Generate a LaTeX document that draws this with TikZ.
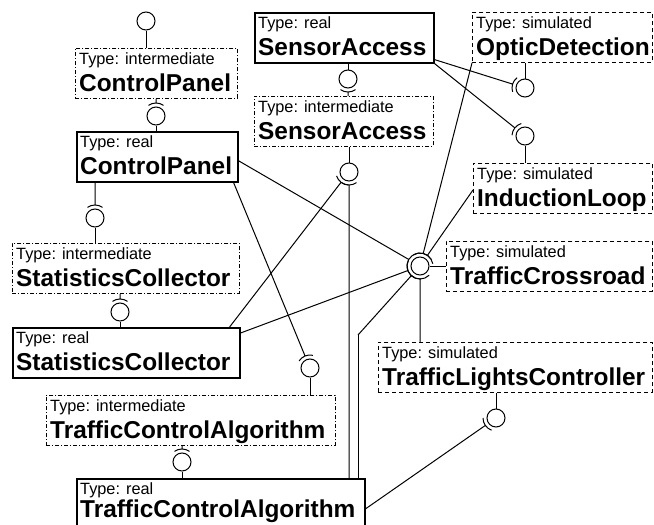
\documentclass[tikz,border=0pt]{standalone}
\usepackage{fontspec}
\setmainfont{Liberation Sans}
\usetikzlibrary{calc}
\tikzset{
 conn/.style={line width=1pt},
 realbox/.style={draw, line width=1.6pt, inner sep=0pt, anchor=north west, minimum height=50pt},
 intbox/.style={draw, line width=0.9pt, dash pattern=on 4pt off 2pt on 1pt off 2pt, inner sep=0pt, anchor=north west, minimum height=50pt},
 simbox/.style={draw, line width=0.9pt, dash pattern=on 4pt off 3pt, inner sep=0pt, anchor=north west, minimum height=50pt},
 typelbl/.style={anchor=base west, inner sep=0pt, font=\fontsize{16.3}{18}\selectfont},
 namelbl/.style={anchor=base west, inner sep=0pt, font=\fontsize{24.4}{28}\selectfont\bfseries},
 ball/.style={circle, draw, line width=1pt, minimum size=18pt, inner sep=0pt},
}
\def\nameoff{-43.5pt}
\newcommand{\ubox}[6]{%
 \node[#1, minimum width=#4] (#2) at (#3) {};
 \node[typelbl] (#2t) at ([shift={(4pt,-16pt)}]#2.north west) {Type: #5};
 \node[namelbl] (#2n) at ([shift={(4pt,\nameoff)}]#2.north west) {#6};}
\newcommand{\sock}[3]{%
 \draw[conn] let \p1=($(#2)-(#1.center)$), \n1={atan2(\y1,\x1)} in
  (#2) -- ($(#1.center)!13pt!(#2)$)
  ($(#1.center)+({\n1-#3}:13pt)$) arc[start angle={\n1-#3}, end angle={\n1+#3}, radius=13pt];}
\begin{document}
\begin{tikzpicture}[x=1pt,y=-1pt]
\clip (0,0) rectangle (654,525);
% boxes
\ubox{intbox}{cpI}{75,48}{162pt}{intermediate}{ControlPanel}
\ubox{realbox}{cpR}{76,131}{161pt}{real}{ControlPanel}
\ubox{realbox}{saR}{254,12}{179pt}{real}{SensorAccess}
\ubox{intbox}{saI}{254,96}{179pt}{intermediate}{SensorAccess}
\ubox{intbox}{scI}{12,243}{227pt}{intermediate}{StatisticsCollector}
\ubox{realbox}{scR}{12,327}{227pt}{real}{StatisticsCollector}
\ubox{intbox}{tcaI}{46,395}{289pt}{intermediate}{TrafficControlAlgorithm}
\ubox{simbox}{od}{472,12}{180pt}{simulated}{OpticDetection}
\ubox{simbox}{il}{473,163}{179pt}{simulated}{InductionLoop}
\ubox{simbox}{tcr}{446,241}{206pt}{simulated}{TrafficCrossroad}
\ubox{simbox}{tlc}{378,342}{274pt}{simulated}{TrafficLightsController}
\def\nameoff{-39.5pt}
\ubox{realbox}{tcaR}{76,478}{288pt}{real}{TrafficControlAlgorithm}
% balls
\node[ball] (bCPi) at (146,21) {};
\node[ball] (bCPr) at (156,116) {};
\node[ball] (bSAr) at (348,79) {};
\node[ball] (bSAi) at (349,172) {};
\node[ball] (bSCi) at (95,218) {};
\node[ball] (bSCr) at (120,312) {};
\node[ball] (bTCAi) at (310,368) {};
\node[ball] (bTCAr) at (182,462) {};
\node[ball] (bOD) at (525,88) {};
\node[ball] (bIL) at (525,136) {};
\node[ball] (bTCR) at (420,266) {};
\node[ball] (bTLC) at (496,418) {};
% stems
\draw[conn] (bCPi) -- (bCPi |- cpI.north);
\draw[conn] (bCPr) -- (bCPr |- cpR.north);
\draw[conn] (bSAr) -- (bSAr |- saR.south);
\draw[conn] (bSAi) -- (bSAi |- saI.south);
\draw[conn] (bSCi) -- (bSCi |- scI.north);
\draw[conn] (bSCr) -- (bSCr |- scR.north);
\draw[conn] (bTCAi) -- (bTCAi |- tcaI.north);
\draw[conn] (bTCAr) -- (bTCAr |- tcaR.north);
\draw[conn] (bOD) -- (bOD |- od.south);
\draw[conn] (bIL) -- (bIL |- il.north);
\draw[conn] (bTCR) -- (bTCR -| tcr.west);
\draw[conn] (bTLC) -- (bTLC |- tlc.south);
% socket sources
\coordinate (sCP) at (bCPr |- cpI.south);
\coordinate (sSA) at (bSAr |- saI.north);
\coordinate (sSCa) at ([xshift=-11pt]scR.north east);
\coordinate (sTCAa) at (bSAi |- tcaR.north);
\coordinate (sSCi) at (bSCi |- cpR.south);
\coordinate (sSCr) at (bSCr |- scI.south);
\coordinate (sTCAi) at ([xshift=-5pt]cpR.south east);
\coordinate (sTCAr) at (bTCAr |- tcaI.south);
\coordinate (sOD) at ([yshift=4pt]saR.south east);
\coordinate (sIL) at (saR.south east);
\coordinate (cCP) at ([yshift=-4pt]cpR.east);
\coordinate (cSC) at ([yshift=-6pt]scR.north east);
\coordinate (cOD) at (od.south west);
\coordinate (cIL) at ([yshift=-27pt]il.north west);
\coordinate (cTLC) at (bTCR |- tlc.north);
\coordinate (bend) at (358,335);
\coordinate (bendEnd) at (bend |- tcaR.north);
\coordinate (sTLC) at ([yshift=-5pt]tcaR.east);
% sockets
\sock{bCPr}{sCP}{35}
\sock{bSAr}{sSA}{35}
\sock{bSAi}{sSCa}{35}
\sock{bSAi}{sTCAa}{35}
\sock{bSCi}{sSCi}{35}
\sock{bSCr}{sSCr}{35}
\sock{bTCAi}{sTCAi}{35}
\sock{bTCAr}{sTCAr}{35}
\sock{bOD}{sOD}{35}
\sock{bIL}{sIL}{35}
\sock{bTLC}{sTLC}{35}
\sock{bTCR}{cCP}{45}
\sock{bTCR}{cSC}{45}
\sock{bTCR}{cOD}{45}
\sock{bTCR}{cIL}{45}
\sock{bTCR}{cTLC}{45}
\sock{bTCR}{bend}{45}
\draw[conn] (bend) -- (bendEnd);
\end{tikzpicture}
\end{document}
